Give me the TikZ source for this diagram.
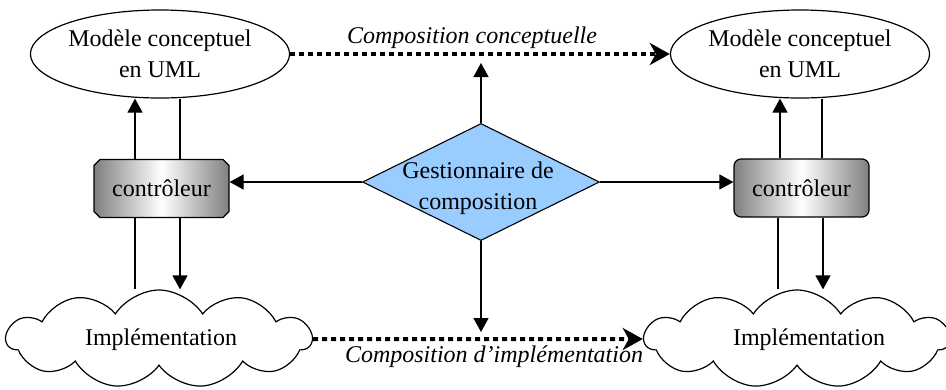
\documentclass[tikz,border=0pt]{standalone}
\usepackage{fontspec}
\setmainfont{Liberation Serif}
\usetikzlibrary{arrows.meta,shapes.geometric,shapes.misc,shapes.symbols}
\begin{document}
\begin{tikzpicture}[x=1pt,y=-1pt,
  every node/.style={font=\fontsize{24}{31}\selectfont, align=center, inner sep=0pt},
  model/.style={draw, line width=1.2pt, ellipse, minimum width=252, minimum height=88},
  ctrlshade/.style={draw, line width=1.2pt, minimum width=135, minimum height=58,
    left color=black!50, right color=black!50, middle color=white},
  manager/.style={draw, line width=1.1pt, diamond, fill={rgb,255:red,153;green,204;blue,255},
    minimum width=237, minimum height=117},
  impl/.style={draw, line width=1.2pt, cloud, cloud puffs=11, cloud puff arc=115,
    cloud ignores aspect, minimum width=305, minimum height=98},
  arr/.style={line width=1.2pt, -{Triangle[length=14pt,width=15pt]}},
  plain/.style={line width=1.2pt},
  dotarr/.style={line width=4pt, dash pattern=on 5pt off 4pt,
    -{Stealth[length=20pt,width=22pt,inset=6pt]}},
  lbl/.style={font=\fontsize{24}{31}\selectfont\itshape}
]
\useasboundingbox (0,0) rectangle (946,389);

% conceptual models
\node[model] (umlL) at (160,54) {Modèle conceptuel\\en UML};
\node[model] (umlR) at (800,54) {Modèle conceptuel\\en UML};

% controllers
\node[ctrlshade, chamfered rectangle, chamfered rectangle xsep=3pt,
      chamfered rectangle ysep=3pt] (ctrlL) at (161.5,188.5) {contrôleur};
\node[ctrlshade, rectangle, rounded corners=7pt] (ctrlR) at (801.5,188) {contrôleur};

% composition manager
\node[manager] (mgr) at (481,182) {};
\node (mgrtext) at (478,188) {Gestionnaire de\\composition};

% implementations
\node[impl] (cloudL) at (159,339) {};
\node (implL) at (161,340) {Implémentation};
\node[impl] (cloudR) at (797,339) {};
\node (implR) at (809,340) {Implémentation};

% composition links
\draw[dotarr] (umlL.east) -- (umlR.west);
\node[lbl] (labC) at (472,38) {Composition conceptuelle};
\draw[dotarr] (cloudL.east) -- (cloudR.west);
\node[lbl] (labI) at (494,357) {Composition d’implémentation};

% manager outputs
\draw[arr] (mgr.west) -- (mgr.west -| ctrlL.east);
\draw[arr] (mgr.east) -- (mgr.east -| ctrlR.west);
\coordinate (upEnd) at (481,63);
\coordinate (downEnd) at (481,332);
\draw[arr] (mgr.north) -- (upEnd);
\draw[arr] (mgr.south) -- (downEnd);

% left controller loop
\draw[arr] ([xshift=-26.5pt]ctrlL.north) -- ([xshift=-26.5pt]ctrlL.north |- umlL.south);
\draw[plain] ([xshift=18.5pt]ctrlL.north) -- ([xshift=18.5pt]ctrlL.north |- umlL.south);
\draw[plain] ([xshift=-26.5pt]ctrlL.south) -- ([xshift=-26.5pt]ctrlL.south |- cloudL.north);
\draw[arr] ([xshift=18.5pt]ctrlL.south) -- ([xshift=18.5pt]ctrlL.south |- cloudL.north);

% right controller loop
\draw[arr] ([xshift=-21.5pt]ctrlR.north) -- ([xshift=-21.5pt]ctrlR.north |- umlR.south);
\draw[plain] ([xshift=20.5pt]ctrlR.north) -- ([xshift=20.5pt]ctrlR.north |- umlR.south);
\draw[plain] ([xshift=-23.5pt]ctrlR.south) -- ([xshift=-23.5pt]ctrlR.south |- cloudR.north);
\draw[arr] ([xshift=21.5pt]ctrlR.south) -- ([xshift=21.5pt]ctrlR.south |- cloudR.north);
\end{tikzpicture}
\end{document}
